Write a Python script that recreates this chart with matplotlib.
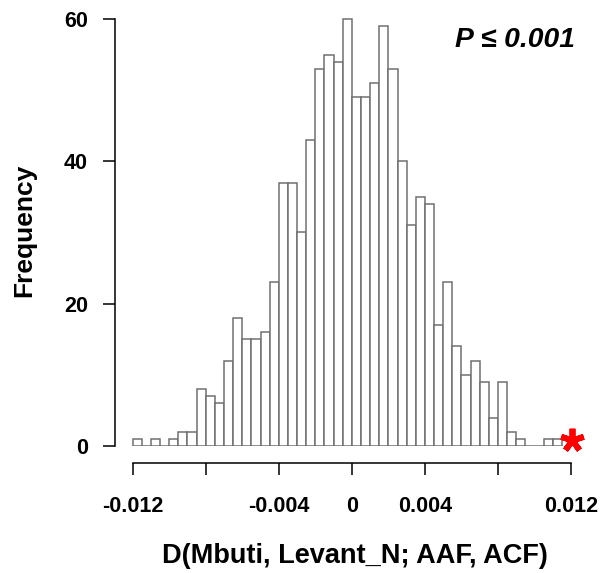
import matplotlib
matplotlib.use("Agg")
import matplotlib.pyplot as plt
import numpy as np

# Histogram data (1000 permutations), bins of width 0.0005 starting at -0.012
bin_start = -0.012
bin_width = 0.0005
counts = [1, 0, 1, 0, 1, 2, 2, 8, 7, 6, 12, 18, 15, 15, 16, 23, 37, 37, 30,
          43, 53, 55, 54, 60, 49, 49, 51, 59, 53, 40, 31, 35, 34, 17, 23, 14,
          10, 12, 9, 4, 9, 2, 1, 0, 0, 1, 1]
observed = 0.01205
xticks = [-0.012, -0.008, -0.004, 0, 0.004, 0.008, 0.012]
xticklabels = ["-0.012", "", "-0.004", "0", "0.004", "", "0.012"]
yticks = [0, 20, 40, 60]
yticklabels = ["0", "20", "40", "60"]

plt.rcParams['font.family'] = ['Liberation Sans', 'DejaVu Sans']

W, H = 600, 573
fig = plt.figure(figsize=(W / 100, H / 100), dpi=100)
L, R, B, T = 116, 585, 446, 10
ax = fig.add_axes([L / W, (H - B) / H, (R - L) / W, (B - T) / H])

edges = bin_start + bin_width * np.arange(len(counts))
ax.bar(edges, counts, width=bin_width, align='edge', facecolor='white',
       edgecolor='#707070', linewidth=1.1)

px_per_unit = 438.3 / 0.024
x_left = -0.012 - (132.7 - L) / px_per_unit
x_right = -0.012 + (R - 132.7) / px_per_unit
ax.set_xlim(x_left, x_right)
ax.set_ylim(0, 60 + (19 - T) / 7.117)

for s in ['top', 'right']:
    ax.spines[s].set_visible(False)
ax.spines['left'].set_bounds(0, 60)
ax.spines['bottom'].set_bounds(-0.012, 0.012)
ax.spines['bottom'].set_position(('outward', 17 * 0.72))
ax.spines['left'].set_position(('outward', 1 * 0.72))
for s in ['left', 'bottom']:
    ax.spines[s].set_linewidth(1.1)

ax.set_xticks(xticks)
ax.set_xticklabels(xticklabels, fontsize=15.5, fontweight='bold')
ax.set_yticks(yticks)
ax.set_yticklabels(yticklabels, fontsize=15.5, fontweight='bold')
ax.tick_params(axis='both', length=12 * 0.72, width=1.1, color='black')
ax.tick_params(axis='x', pad=21 * 0.72)
ax.tick_params(axis='y', pad=15 * 0.72)

ax.plot([observed], [0.84], marker=(5, 2, 0), color='#ff0000',
        markersize=17, markeredgewidth=4.2, clip_on=False, linestyle='none')

fig.text(575 / W, 1 - 40 / H, "P ≤ 0.001", fontsize=20.3, fontweight='bold',
         fontstyle='italic', ha='right', va='center')
fig.text(355 / W, 1 - 556 / H, "D(Mbuti, Levant_N; AAF, ACF)", fontsize=19.5,
         fontweight='bold', ha='center', va='center')
fig.text(24 / W, 1 - 230 / H, "Frequency", fontsize=19, fontweight='bold',
         ha='center', va='center', rotation=90)

fig.savefig("out.png", dpi=100)
